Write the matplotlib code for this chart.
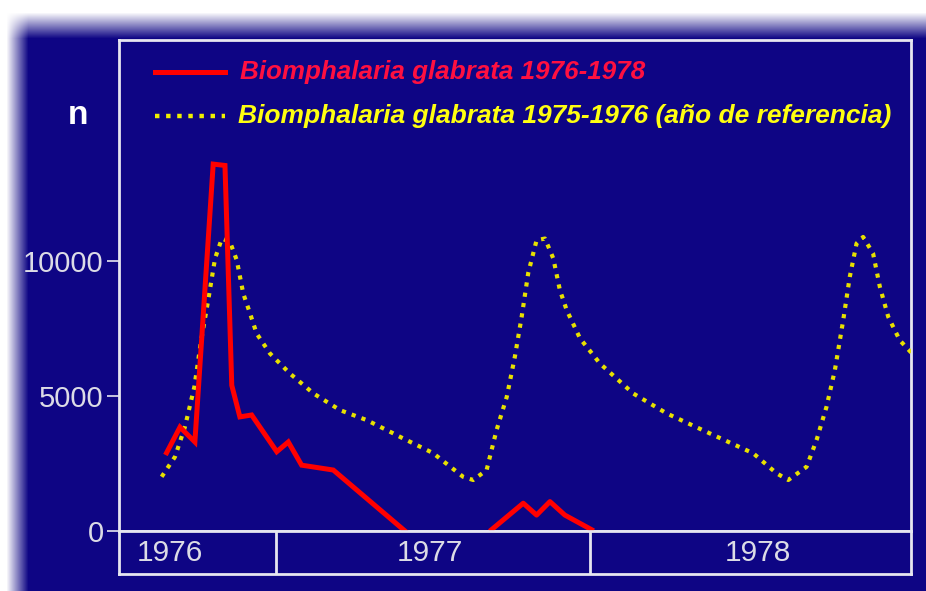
import numpy as np
import matplotlib
matplotlib.use('Agg')
import matplotlib.pyplot as plt

plt.rcParams['font.family'] = ['Liberation Sans', 'DejaVu Sans']

# months counted from January 1976 (12 = start of 1977, 24 = start of 1978)
red_months_a = [7.82, 8.33, 8.90, 9.60, 10.05, 10.31, 10.62, 11.07, 12.03, 12.47, 12.98, 14.19, 16.93]
red_values_a = [2900, 3850, 3300, 13600, 13550, 5400, 4230, 4300, 2940, 3300, 2440, 2260, 0]
red_months_b = [20.24, 21.45, 21.96, 22.47, 23.04, 24.06]
red_values_b = [50, 1030, 590, 1090, 590, 50]

yellow_months = [7.63, 8.14, 8.52, 8.88, 9.13, 9.41, 9.67, 9.93, 10.24, 10.50, 10.75, 11.01,
                 11.26, 11.77, 12.53, 13.43, 14.45, 15.47, 16.48, 16.74, 18.00, 19.15, 19.54,
                 20.05, 20.43, 20.82, 21.13, 21.39, 21.64, 21.96, 22.28, 22.60, 22.85, 23.11,
                 23.62, 24.38, 25.65, 26.93, 28.71, 30.24, 31.13, 31.58, 32.28, 32.66, 33.04,
                 33.36, 33.68, 33.93, 34.19, 34.44, 34.82, 35.08, 35.40, 35.84, 36.30]
yellow_values = [2010, 2750, 3860, 5340, 7010, 8560, 10100, 10840, 10720, 10040, 8800, 8060,
                 7320, 6580, 5840, 5100, 4480, 4110, 3620, 3490, 2890, 2010, 1890,
                 2260, 3740, 4970, 6460, 7940, 9560, 10780, 10840, 10100, 8930, 8190,
                 7140, 6210, 5100, 4360, 3560, 2880, 2140, 1890, 2380, 3370, 4600,
                 5960, 7820, 9420, 10660, 10900, 10290, 9050, 7940, 7070, 6590]

year_labels = ['1976', '1977', '1978']
year_bounds = [12, 24]
y_ticks = [0, 5000, 10000]

legend_red = 'Biomphalaria glabrata 1976-1978'
legend_yellow = 'Biomphalaria glabrata 1975-1976 (año de referencia)'

navy = '#0e0584'
frame = '#e6e6f0'
W, H = 926, 591

fig = plt.figure(figsize=(W / 100, H / 100), dpi=100)
fig.patch.set_facecolor('white')

# background panel with soft white edge at left and top
bg = fig.add_axes([0, 0, 1, 1])
xx = np.clip((np.arange(W) - 6) / 22.0, 0, 1)
yy = np.clip((np.arange(H) - 12) / 26.0, 0, 1)
mix = np.outer(yy, xx)[..., None]
navy_rgb = np.array(matplotlib.colors.to_rgb(navy))
img = 1 - mix * (1 - navy_rgb)
bg.imshow(img, aspect='auto', extent=(0, 1, 0, 1))
bg.axis('off')

x0, x1 = 6.0, 36.27
ymax = 18200
dots = (0, (1.0, 1.5))

ax = fig.add_axes([119 / W, (H - 531) / H, (911 - 119) / W, (531 - 40) / H])
ax.set_facecolor(navy)
ax.set_xlim(x0, x1)
ax.set_ylim(0, ymax)
ax.plot(yellow_months, yellow_values, color='#e8e000', lw=3.0, linestyle=dots, zorder=3)
ax.plot(red_months_a, red_values_a, color='#ff0000', lw=3.6, zorder=4, solid_joinstyle='miter')
ax.plot(red_months_b, red_values_b, color='#ff0000', lw=3.6, zorder=4)
ax.set_xticks([])
ax.set_yticks(y_ticks)
ax.set_yticklabels([str(v) for v in y_ticks])
ax.tick_params(axis='y', direction='out', length=9, width=1.2, color=frame,
               labelcolor='#dcdce6', labelsize=21, pad=2)
for s in ax.spines.values():
    s.set_color(frame)
    s.set_linewidth(2)

# legend
ax.plot([0.045, 0.134], [0.935, 0.935], transform=ax.transAxes, color='#ff0000', lw=3.6, clip_on=False)
ax.text(0.153, 0.935, legend_red, transform=ax.transAxes, color='#ff1040', fontsize=18.7,
        fontweight='bold', fontstyle='italic', va='center', ha='left')
ax.plot([0.045, 0.134], [0.845, 0.845], transform=ax.transAxes, color='#f0f000', lw=3.2,
        linestyle=dots, clip_on=False)
ax.text(0.150, 0.845, legend_yellow, transform=ax.transAxes, color='#ffff10', fontsize=19,
        fontweight='bold', fontstyle='italic', va='center', ha='left')
fig.text(78 / W, (H - 115) / H, 'n', color='white', fontsize=24, fontweight='bold',
         ha='center', va='center')

# year band under the axis
band = fig.add_axes([119 / W, (H - 574) / H, (911 - 119) / W, (574 - 531) / H])
band.set_facecolor(navy)
band.set_xlim(x0, x1)
band.set_ylim(0, 1)
band.set_xticks([])
band.set_yticks([])
for s in band.spines.values():
    s.set_color(frame)
    s.set_linewidth(2)
for b in year_bounds:
    band.axvline(b, color=frame, lw=2)
for lab, xm in zip(year_labels, [7.95, 17.9, 30.4]):
    band.text(xm, 0.48, lab, color='#dcdce6', fontsize=21.5, ha='center', va='center')

fig.savefig('out.png', dpi=100, facecolor=fig.get_facecolor())
